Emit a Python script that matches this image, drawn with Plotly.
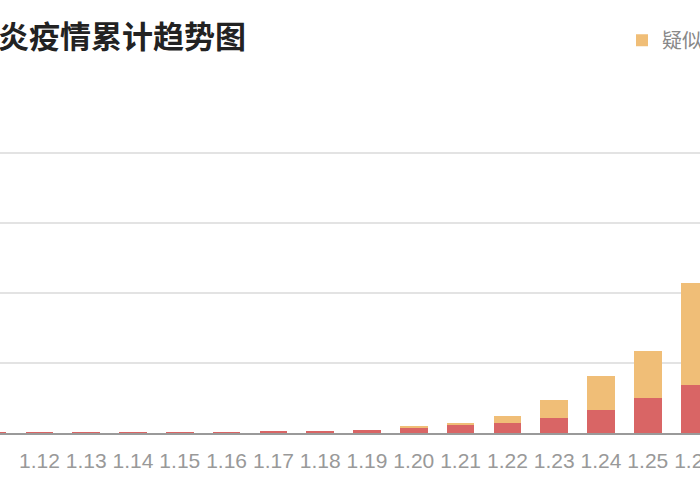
import plotly.graph_objects as go

dates = ["1.11", "1.12", "1.13", "1.14", "1.15", "1.16", "1.17", "1.18",
         "1.19", "1.20", "1.21", "1.22", "1.23", "1.24", "1.25", "1.26"]
confirmed = [41, 41, 41, 41, 41, 45, 62, 121, 198, 291, 440, 571, 830, 1287, 1975, 2744]
suspected = [0, 0, 0, 0, 0, 0, 0, 0, 0, 54, 149, 393, 1072, 1965, 2684, 5794]

title_text = "新冠肺炎疫情累计趋势图"
RED = "#D96565"
ORANGE = "#F0BE77"

W, H = 700, 500
plot_bottom = 433.5
ymax = 16100
px_per_unit = (433.5 - 152.7) / 16000
plot_top = plot_bottom - ymax * px_per_unit
mt = plot_top
mb = H - plot_bottom
ph = plot_bottom - plot_top

fig = go.Figure()
fig.add_trace(go.Bar(x=dates, y=confirmed, name="确诊", marker_color=RED,
                     marker_line_width=0, showlegend=False))
fig.add_trace(go.Bar(x=dates, y=suspected, name="疑似", marker_color=ORANGE,
                     marker_line_width=0))

step = 46.8
r0 = 7.4 / step
fig.update_layout(
    width=W, height=H,
    margin=dict(l=0, r=0, t=mt, b=mb, pad=0, autoexpand=False),
    barmode="stack", bargap=0.41,
    plot_bgcolor="white", paper_bgcolor="white",
    font=dict(family="Noto Sans CJK SC, Liberation Sans, sans-serif"),
    xaxis=dict(type="category", range=[r0, r0 + W / step],
               showgrid=False, showline=True, linecolor="#9a9a9a", linewidth=1.5,
               ticks="", tickfont=dict(size=21, color="#999999",
                                        family="Liberation Sans, Arial, sans-serif"),
               ticklabelstandoff=8, fixedrange=True),
    yaxis=dict(range=[0, ymax], tickvals=[4000, 8000, 12000, 16000],
               showticklabels=False,
               showgrid=True, gridcolor="#e3e3e3", gridwidth=1.5,
               zeroline=False, showline=False, fixedrange=True),
    legend=dict(orientation="h", x=622 / W, xanchor="left",
                y=(plot_bottom - 40) / ph, yanchor="middle",
                font=dict(size=20, color="#888888"), bgcolor="rgba(0,0,0,0)"),
    annotations=[dict(text=title_text, xref="paper", yref="paper",
                      x=-97 / W, y=(plot_bottom - 34.5) / ph,
                      xanchor="left", yanchor="middle", showarrow=False,
                      font=dict(size=31, color="#222222", weight="bold"))],
)

fig.write_html("out.html", config={"displayModeBar": False},
               post_script="document.body.style.margin='0';")
